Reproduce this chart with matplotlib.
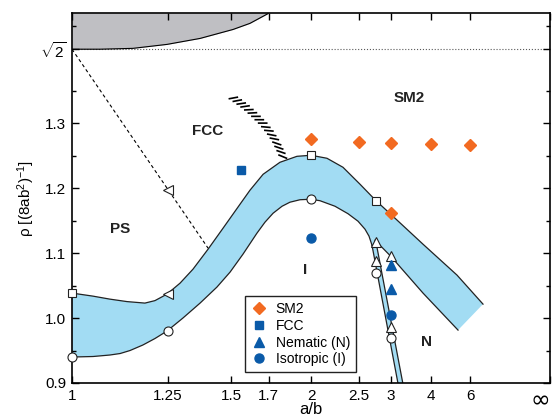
import numpy as np
import matplotlib
matplotlib.use('Agg')
import matplotlib.pyplot as plt
from matplotlib import patheffects
from matplotlib.ticker import FixedLocator, NullLocator

plt.rcParams['font.family'] = ['Liberation Sans', 'DejaVu Sans']
plt.rcParams['mathtext.fontset'] = 'custom'
plt.rcParams['mathtext.rm'] = 'Liberation Sans'
plt.rcParams['mathtext.it'] = 'Liberation Sans:italic'
plt.rcParams['mathtext.bf'] = 'Liberation Sans:bold'

SQRT2 = np.sqrt(2)
RHO_MIN, RHO_MAX = 0.9, 1.47
X_INF = 1e12   # stands in for a/b = infinity

ORANGE = '#f26a21'
BLUE = '#0a5aa8'
BAND = '#a2dcf3'
GRAY = '#bfbfc3'
INK = '#222222'

# coexistence band, upper edge (a/b, rho)
upper_ab = [1.0, 1.046, 1.086, 1.130, 1.180, 1.210, 1.248, 1.292, 1.339, 1.398,
            1.462, 1.542, 1.593, 1.666, 1.770, 1.889, 2.0, 2.143, 2.309, 2.516,
            2.747, 2.99, 3.764, 5.14, 7.134]
upper_rho = [1.0385, 1.0338, 1.0292, 1.0254, 1.0231, 1.0269, 1.0369, 1.0538, 1.0754, 1.1062,
             1.1385, 1.1754, 1.1969, 1.2215, 1.240, 1.2492, 1.2508, 1.2462, 1.2323, 1.2062,
             1.1808, 1.1608, 1.1138, 1.0662, 1.0215]
# lower edge on the isotropic side, running into the left line of the I-N band
lower_ab = [1.0, 1.046, 1.086, 1.112, 1.138, 1.174, 1.210, 1.248, 1.302, 1.366,
            1.435, 1.494, 1.557, 1.631, 1.677, 1.726, 1.784, 1.838, 1.912, 2.0,
            2.078, 2.223, 2.366, 2.490, 2.584, 2.641, 2.685]
lower_rho = [0.940, 0.9408, 0.9431, 0.9454, 0.950, 0.9585, 0.9685, 0.980, 1.000, 1.0231,
             1.0477, 1.0708, 1.0985, 1.1308, 1.1477, 1.1615, 1.1723, 1.1785, 1.1823, 1.1831,
             1.1808, 1.1723, 1.1608, 1.1492, 1.1369, 1.1262, 1.1123]
# lower edge on the nematic side (band end -> junction)
nem_ab = [5.196, 3.764, 3.0, 2.731]
nem_rho = [0.9815, 1.0385, 1.0954, 1.120]
# narrow I-N band
in_left_ab, in_left_rho = [2.685, 3.168], [1.1123, 0.89]
in_right_ab, in_right_rho = [2.747, 3.274], [1.1169, 0.89]

# dashed PS boundary
dash_ab, dash_rho = [1.0, 1.398], [SQRT2, 1.1077]

# grey excluded region, lower edge
gray_ab = [1.0, 1.062, 1.146, 1.248, 1.366, 1.508, 1.593, 1.695]
gray_rho = [SQRT2, 1.4142, 1.4155, 1.4216, 1.4308, 1.4446, 1.4540, 1.4690]

# hatched boundary (foot of the hatch marks)
hatch_ab = [1.482, 1.520, 1.560, 1.601, 1.645, 1.686, 1.723, 1.754, 1.770]
hatch_rho = [1.340, 1.3315, 1.3223, 1.3115, 1.2992, 1.2862, 1.2723, 1.2569, 1.2477]

# simulation points
sm2_ab = [2.0, 2.5, 3.0, 4.0, 6.0, 3.0]
sm2_rho = [1.2754, 1.2708, 1.2692, 1.2677, 1.2662, 1.1615]
fcc_ab, fcc_rho = [1.545], [1.2277]
nem_pt_ab, nem_pt_rho = [3.0, 3.0], [1.0815, 1.0441]
iso_ab, iso_rho = [2.0, 3.0], [1.1226, 1.0046]

# open symbols on the boundaries
osq_ab, osq_rho = [1.0, 2.0, 2.75], [1.0385, 1.2508, 1.1805]
ocirc_ab, ocirc_rho = [1.0, 1.25, 2.0, 2.75, 3.0], [0.940, 0.980, 1.183, 1.0697, 0.969]
oltri_ab, oltri_rho = [1.25, 1.25], [1.197, 1.037]
outri_ab, outri_rho = [2.75, 2.75, 3.0, 3.0], [1.1174, 1.0877, 1.0954, 0.9866]

# region labels
regions = ['FCC', 'SM2', 'PS', 'I', 'N']
region_ab = [1.398, 3.39, 1.112, 1.951, 3.855]
region_rho = [1.2877, 1.3385, 1.137, 1.074, 0.963]

xtick_vals = [1, 1.25, 1.5, 1.7, 2, 2.5, 3, 4, 6, X_INF]
xtick_labels = ['1', '1.25', '1.5', '1.7', '2', '2.5', '3', '4', '6', '\u221e']
ytick_vals = [0.9, 1.0, 1.1, 1.2, 1.3, SQRT2]
ytick_labels = ['0.9', '1.0', '1.1', '1.2', '1.3', r'$\sqrt{2}$']
yminor = [0.95, 1.05, 1.15, 1.25, 1.35, 1.45]


def fwd(x):
    x = np.asarray(x, dtype=float)
    with np.errstate(divide='ignore', invalid='ignore'):
        return 1.0 - 1.0 / x


def inv(t):
    t = np.asarray(t, dtype=float)
    with np.errstate(divide='ignore', invalid='ignore'):
        return 1.0 / (1.0 - t)


fig = plt.figure(figsize=(5.53, 4.2), dpi=100)
ax = fig.add_axes([0.1302, 0.0881, 0.8644, 0.881])

# grey region
ax.fill_between(gray_ab, gray_rho, RHO_MAX, color=GRAY, lw=0, zorder=1)
ax.plot(gray_ab, gray_rho, color='k', lw=0.8, zorder=2)
ax.axhline(SQRT2, ls=':', color='0.35', lw=0.8, zorder=1)

# coexistence bands
band_x = upper_ab + nem_ab + lower_ab[:-1][::-1]
band_y = upper_rho + nem_rho + lower_rho[:-1][::-1]
ax.fill(band_x, band_y, color=BAND, lw=0, zorder=1)
thin_x = [lower_ab[-2]] + in_left_ab + in_right_ab[::-1] + [nem_ab[-1]]
thin_y = [lower_rho[-2]] + in_left_rho + in_right_rho[::-1] + [nem_rho[-1]]
ax.fill(thin_x, thin_y, color=BAND, lw=0, zorder=1)
for xs, ys in [(upper_ab, upper_rho), (lower_ab, lower_rho), (nem_ab, nem_rho),
               (in_left_ab, in_left_rho), (in_right_ab, in_right_rho)]:
    ax.plot(xs, ys, color=INK, lw=0.9, zorder=2)

ax.plot(dash_ab, dash_rho, color='k', ls=(0, (3, 2.5)), lw=0.8, zorder=2)

# hatched line: only the ticks are drawn, not the line itself
ax.plot(hatch_ab, hatch_rho, color='k', lw=1.2, zorder=2,
        path_effects=[patheffects.TickedStroke(angle=45, spacing=3.4, length=1.7)])

# open symbols
kw = dict(ls='none', mfc='white', mec=INK, mew=0.8, zorder=4, clip_on=False)
ax.plot(osq_ab, osq_rho, 's', ms=6, **kw)
ax.plot(ocirc_ab, ocirc_rho, 'o', ms=6.5, **kw)
ax.plot(oltri_ab, oltri_rho, '<', ms=6.5, **kw)
ax.plot(outri_ab, outri_rho, '^', ms=6.5, **kw)

# simulation results
ax.plot(sm2_ab, sm2_rho, 'D', color=ORANGE, ms=6, ls='none', zorder=5, label='SM2')
ax.plot(fcc_ab, fcc_rho, 's', color=BLUE, ms=6, ls='none', zorder=5, label='FCC')
ax.plot(nem_pt_ab, nem_pt_rho, '^', color=BLUE, ms=6.5, ls='none', zorder=5, label='Nematic (N)')
ax.plot(iso_ab, iso_rho, 'o', color=BLUE, ms=6.5, ls='none', zorder=5, label='Isotropic (I)')

for name, x, y in zip(regions, region_ab, region_rho):
    ax.text(x, y, name, fontsize=11, fontweight='bold', ha='center', va='center', color=INK)

ax.set_xscale('function', functions=(fwd, inv))
ax.set_xlim(1, X_INF)
ax.set_ylim(RHO_MIN, RHO_MAX)

ax.xaxis.set_major_locator(FixedLocator(xtick_vals))
ax.xaxis.set_minor_locator(NullLocator())
ax.set_xticklabels(xtick_labels)
ax.set_yticks(ytick_vals)
ax.set_yticklabels(ytick_labels)
ax.yaxis.set_minor_locator(FixedLocator(yminor))

ax.tick_params(which='both', direction='in', top=True, right=True, labelsize=11, width=1)
ax.tick_params(which='major', length=5, pad=4)
ax.tick_params(which='minor', length=3)
for s in ax.spines.values():
    s.set_linewidth(1.2)

fig.canvas.draw()
inf_lab = ax.xaxis.get_major_ticks()[-1].label1
inf_lab.set_fontfamily('DejaVu Sans')
inf_lab.set_fontsize(17)
inf_lab.set_horizontalalignment('right')

ax.set_xlabel('a/b', fontsize=12)
ax.xaxis.set_label_coords(0.5, -0.052)
ax.set_ylabel('\u03c1 [(8ab$^2$)$^{-1}$]', fontsize=11)
ax.yaxis.set_label_coords(-0.073, 0.5)

leg = ax.legend(loc='lower left', bbox_to_anchor=(0.362, 0.03), borderaxespad=0,
                fontsize=10, frameon=True, fancybox=False, framealpha=1,
                handlelength=1.2, handletextpad=0.6, labelspacing=0.2, borderpad=0.4)
leg.get_frame().set_edgecolor(INK)
leg.get_frame().set_linewidth(1.0)
leg.set_zorder(10)

fig.savefig('out.png', dpi=100)
